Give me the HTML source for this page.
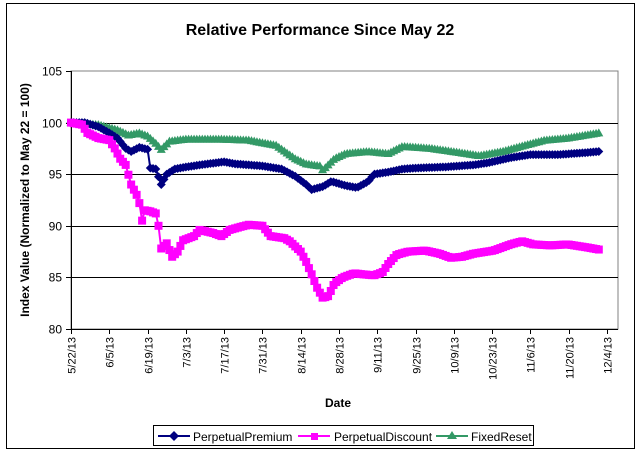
<!DOCTYPE html><html><head><style>body{margin:0;background:#fff}svg{display:block;font-family:"Liberation Sans",Arial,sans-serif}</style></head><body>
<svg id="s" width="641" height="453" xmlns="http://www.w3.org/2000/svg">
<rect x="6.5" y="3.5" width="628" height="445" fill="#fff" stroke="#000"/>
<text x="320" y="35" font-size="16" font-weight="bold" text-anchor="middle">Relative Performance Since May 22</text>
<rect x="71" y="71" width="547" height="258" fill="#fff" stroke="#808080"/>
<g id="grid" stroke="#000" stroke-width="1"></g>
<text transform="translate(29,200) rotate(-90)" font-size="12" font-weight="bold" text-anchor="middle">Index Value (Normalized to May 22 = 100)</text>
<text x="338" y="407" font-size="12" font-weight="bold" text-anchor="middle">Date</text>
<g id="ser"></g>
<rect x="153.5" y="425.5" width="380" height="20" fill="#fff" stroke="#000"/>
<line x1="158" y1="436" x2="190" y2="436" stroke="#000080" stroke-width="2"/><path d="M174 431l5 5-5 5-5-5z" fill="#000080"/>
<text x="193" y="441" font-size="12">PerpetualPremium</text>
<line x1="298" y1="436" x2="330" y2="436" stroke="#ff00ff" stroke-width="2"/><rect x="311" y="433" width="7" height="7" fill="#ff00ff"/>
<text x="334" y="441" font-size="12">PerpetualDiscount</text>
<line x1="436" y1="436" x2="468" y2="436" stroke="#339966" stroke-width="2"/><path d="M452 431l5 8h-10z" fill="#339966"/>
<text x="471" y="441" font-size="12">FixedReset</text>
</svg>
<script>
var ns="http://www.w3.org/2000/svg",s=document.getElementById('s'),g=document.getElementById('grid'),S=document.getElementById('ser');
function el(p,t,a){var e=document.createElementNS(ns,t);for(var k in a)e.setAttribute(k,a[k]);p.appendChild(e);return e}
function Y(v){return 329-(v-80)*258/25}function X(d){return 71+d*536/196}
for(var v=80;v<=105;v+=5){var y=Math.round(Y(v))+.5;if(v>80&&v<105)el(g,'line',{x1:71,x2:618,y1:y,y2:y});el(g,'line',{x1:66,x2:71,y1:y,y2:y});var t=el(s,'text',{x:62,y:y+4,'font-size':12,'text-anchor':'end'});t.textContent=v}
el(g,'line',{x1:71.5,x2:71.5,y1:71,y2:329});el(g,'line',{x1:71,x2:618,y1:329.5,y2:329.5});
var labs=['5/22/13','6/5/13','6/19/13','7/3/13','7/17/13','7/31/13','8/14/13','8/28/13','9/11/13','9/25/13','10/9/13','10/23/13','11/6/13','11/20/13','12/4/13'];
labs.forEach(function(l,i){var x=Math.round(X(i*14))+.5;el(g,'line',{x1:x,x2:x,y1:329,y2:334});var t=el(s,'text',{transform:'translate('+(x+4)+',337) rotate(-90)','font-size':11,'text-anchor':'end'});t.textContent=l});
var P=[[0,100],[5,100],[10,99.6],[14,99],[17,98.5],[20,97.5],[22,97.2],[25,97.6],[28,97.4],[29,95.6],[31,95.5],[33,94],[35,95],[38,95.5],[42,95.7],[50,96],[56,96.2],[60,96],[70,95.8],[77,95.5],[82,94.8],[86,94],[88,93.5],[92,93.8],[95,94.3],[100,93.9],[104,93.7],[108,94.3],[110,95],[115,95.2],[120,95.5],[125,95.6],[135,95.7],[145,95.9],[150,96.1],[158,96.6],[165,96.9],[175,96.9],[185,97.1],[189,97.2]];
var D=[[0,100],[4,99.8],[6,99],[10,98.5],[14,98.3],[16,97.5],[18,96.5],[20,95.9],[22,94],[24,93],[25,92.2],[26,90.5],[27,91.5],[29,91.4],[31,91.2],[32,90],[33,87.8],[35,88.3],[37,87],[39,87.5],[41,88.6],[45,89],[47,89.6],[52,89.3],[55,89],[58,89.6],[62,89.9],[65,90.1],[70,90],[73,89],[78,88.8],[80,88.5],[84,87.5],[86,86.5],[88,85.3],[90,84],[92,83],[94,83.2],[96,84.4],[99,85],[103,85.4],[106,85.3],[110,85.2],[113,85.5],[115,86.3],[118,87.2],[122,87.5],[128,87.6],[133,87.3],[137,86.9],[141,87],[145,87.3],[152,87.6],[158,88.2],[162,88.5],[166,88.2],[172,88.1],[178,88.2],[185,87.9],[189,87.7]];
var F=[[0,100],[10,99.8],[17,99.3],[21,98.8],[25,99],[28,98.7],[31,98],[33,97.4],[36,98.2],[42,98.4],[55,98.4],[65,98.3],[75,97.8],[82,96.5],[86,96],[91,95.8],[92,95.4],[96,96.5],[100,97],[108,97.2],[115,97],[120,97.7],[130,97.5],[140,97.1],[147,96.8],[155,97.2],[163,97.8],[170,98.3],[178,98.5],[189,99]];
function st(K){return K.map(function(p){return [p[0]>90?90+(p[0]-90)*103/99:p[0],p[1]]})}
P=st(P);D=st(D);F=st(F);
function iv(K,d){for(var i=1;i<K.length;i++)if(d<=K[i][0]){var a=K[i-1],b=K[i];return a[1]+(b[1]-a[1])*(d-a[0])/(b[0]-a[0])}return K[K.length-1][1]}
function draw(K,c,m){var pts=[];for(var d=0;d<=193;d+=1){pts.push([X(d),Y(iv(K,d))])}
el(S,'polyline',{points:pts.map(function(p){return p[0].toFixed(1)+','+p[1].toFixed(1)}).join(' '),fill:'none',stroke:c,'stroke-width':2});
pts.forEach(function(p){var x=p[0],y=p[1];if(m==0)el(S,'path',{d:'M'+x+' '+(y-4.5)+'l4.5 4.5-4.5 4.5-4.5-4.5z',fill:c});else if(m==1)el(S,'rect',{x:x-4,y:y-4,width:8,height:8,fill:c});else el(S,'path',{d:'M'+x+' '+(y-4.5)+'l4.5 8h-9z',fill:c})})}
draw(F,'#339966',2);draw(P,'#000080',0);draw(D,'#ff00ff',1);
</script></body></html>
